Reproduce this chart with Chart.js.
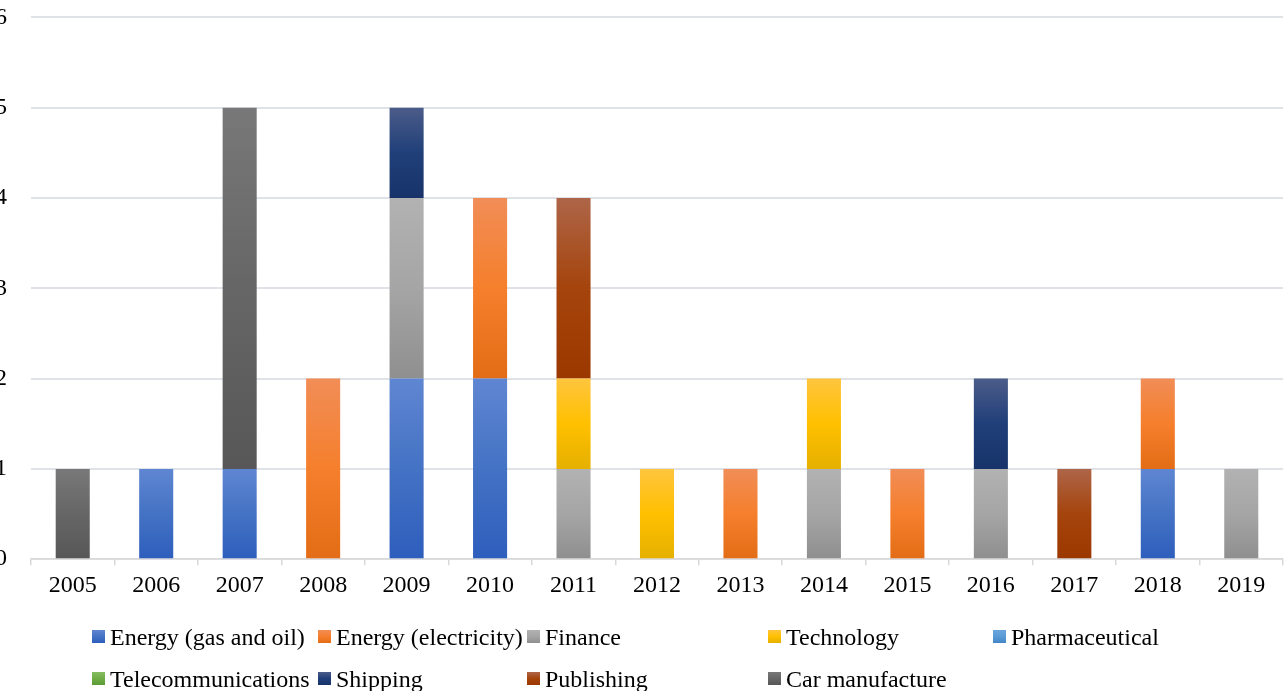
<!DOCTYPE html>
<html>
<head>
<meta charset="utf-8">
<title>Cases by year and sector</title>
<script src="https://cdn.jsdelivr.net/npm/chart.js@4.4.0/dist/chart.umd.min.js"></script>
<style>
    html, body { margin: 0; padding: 0; background: #ffffff; overflow: hidden; }
    body { width: 1287px; height: 691px; position: relative; font-family: "Liberation Serif", "Times New Roman", serif; }
    #wrap { position: absolute; left: -29px; top: -21px; width: 1316px; height: 627px; }
    #legend { position: absolute; left: 0; top: 0; width: 1287px; height: 691px; pointer-events: none; }
    .item { position: absolute; font-size: 24px; color: #000; white-space: nowrap; line-height: 24px; }
    .item span.box { position: absolute; left: 0; top: 5px; width: 13px; height: 13px; }
    .item span.txt { position: absolute; left: 18px; top: 0; }
</style>
</head>
<body>
<div id="wrap"><canvas id="sectorChart"></canvas></div>
<div id="legend"></div>
<script>
var years = ['2005', '2006', '2007', '2008', '2009', '2010', '2011', '2012', '2013', '2014', '2015', '2016', '2017', '2018', '2019'];
var yTicks = [0, 1, 2, 3, 4, 5, 6];

var sectorNames = [
    'Energy (gas and oil)', 'Energy (electricity)', 'Finance', 'Technology', 'Pharmaceutical',
    'Telecommunications', 'Shipping', 'Publishing', 'Car manufacture'
];

//                 05 06 07 08 09 10 11 12 13 14 15 16 17 18 19
var gasOil =      [0, 1, 1, 0, 2, 2, 0, 0, 0, 0, 0, 0, 0, 1, 0];
var electricity = [0, 0, 0, 2, 0, 2, 0, 0, 1, 0, 1, 0, 0, 1, 0];
var finance =     [0, 0, 0, 0, 2, 0, 1, 0, 0, 1, 0, 1, 0, 0, 1];
var technology =  [0, 0, 0, 0, 0, 0, 1, 1, 0, 1, 0, 0, 0, 0, 0];
var pharma =      [0, 0, 0, 0, 0, 0, 0, 0, 0, 0, 0, 0, 0, 0, 0];
var telecom =     [0, 0, 0, 0, 0, 0, 0, 0, 0, 0, 0, 0, 0, 0, 0];
var shipping =    [0, 0, 0, 0, 1, 0, 0, 0, 0, 0, 0, 1, 0, 0, 0];
var publishing =  [0, 0, 0, 0, 0, 0, 2, 0, 0, 0, 0, 0, 1, 0, 0];
var carMaking =   [1, 0, 4, 0, 0, 0, 0, 0, 0, 0, 0, 0, 0, 0, 0];

var seriesData = [gasOil, electricity, finance, technology, pharma, telecom, shipping, publishing, carMaking];

// top, middle, bottom colours of each bar gradient
var gradStops = [
    ['#5f86d2', '#4472c4', '#2e5ebd'],
    ['#f18d57', '#f57f2c', '#e36c16'],
    ['#b2b2b2', '#a5a5a5', '#8f8f8f'],
    ['#ffc53e', '#ffc000', '#e5b000'],
    ['#6aa5dd', '#5b9bd5', '#4186c8'],
    ['#86bd60', '#70ad47', '#5c9a35'],
    ['#4b5c89', '#203f79', '#18336a'],
    ['#ae6548', '#a5440c', '#9b3800'],
    ['#787878', '#666666', '#575757']
];

var legendCols = [92, 318, 527, 768, 993];
var legendRows = [625, 667];

function stackBase(datasetIndex, index) {
    var base = 0;
    for (var k = 0; k < datasetIndex; k++) {
        base += seriesData[k][index] || 0;
    }
    return base;
}

function segmentColor(c) {
    var stops = gradStops[c.datasetIndex];
    var chart = c.chart;
    if (!chart.chartArea || c.dataIndex === undefined || !chart.scales.y) {
        return stops[1];
    }
    var base = stackBase(c.datasetIndex, c.dataIndex);
    var value = seriesData[c.datasetIndex][c.dataIndex] || 0;
    var top = chart.scales.y.getPixelForValue(base + value);
    var bottom = chart.scales.y.getPixelForValue(base);
    if (bottom - top < 1) {
        return stops[1];
    }
    var g = chart.ctx.createLinearGradient(0, top, 0, bottom);
    g.addColorStop(0, stops[0]);
    g.addColorStop(0.5, stops[1]);
    g.addColorStop(1, stops[2]);
    return g;
}

document.addEventListener('DOMContentLoaded', function () {
    var canvas = document.getElementById('sectorChart');
    var datasets = sectorNames.map(function (name, i) {
        return {
            label: name,
            data: seriesData[i],
            backgroundColor: segmentColor,
            borderWidth: 0,
            barPercentage: 0.51,
            categoryPercentage: 0.8
        };
    });

    new Chart(canvas.getContext('2d'), {
        type: 'bar',
        data: { labels: years, datasets: datasets },
        options: {
            responsive: true,
            maintainAspectRatio: false,
            animation: false,
            layout: { padding: { top: 17, right: 4, bottom: 0, left: 0 } },
            plugins: {
                legend: { display: false },
                tooltip: { enabled: false }
            },
            scales: {
                x: {
                    stacked: true,
                    border: { display: true, color: '#d9d9d9', width: 1.5 },
                    grid: { display: true, drawOnChartArea: false, drawTicks: true, tickLength: 6, color: '#d9d9d9', lineWidth: 1.5 },
                    ticks: { color: '#000', padding: 6, maxRotation: 0, font: { family: '"Liberation Serif", "Times New Roman", serif', size: 24 } }
                },
                y: {
                    stacked: true,
                    min: 0,
                    max: 6,
                    afterBuildTicks: function (axis) {
                        axis.ticks = yTicks.map(function (v) { return { value: v }; });
                    },
                    border: { display: false },
                    grid: { color: '#dfe3e8', lineWidth: 2, drawTicks: false },
                    ticks: { color: '#000', padding: 24, font: { family: '"Liberation Serif", "Times New Roman", serif', size: 24 } }
                }
            }
        }
    });

    // Excel-style legend laid out on a fixed grid
    var legend = document.getElementById('legend');
    sectorNames.forEach(function (name, i) {
        var row = Math.floor(i / 5);
        var col = i % 5;
        var stops = gradStops[i];
        var item = document.createElement('div');
        item.className = 'item';
        item.style.left = legendCols[col] + 'px';
        item.style.top = legendRows[row] + 'px';
        item.innerHTML = '<span class="box" style="background: linear-gradient(' + stops[0] + ', ' + stops[1] + ', ' + stops[2] + ')"></span>' +
            '<span class="txt">' + name + '</span>';
        legend.appendChild(item);
    });
});
</script>
</body>
</html>
